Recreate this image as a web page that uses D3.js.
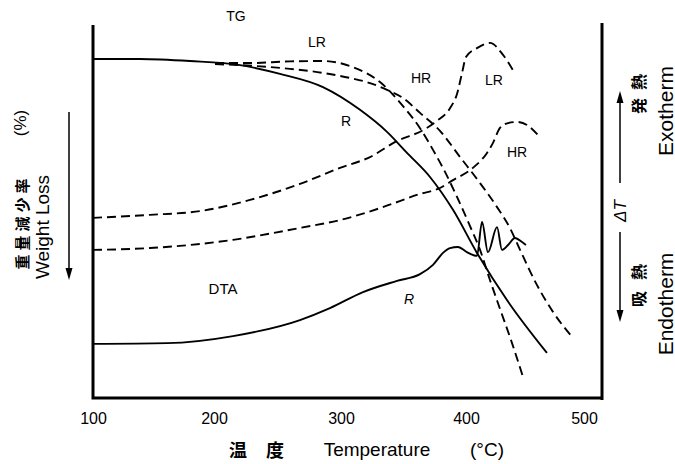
<!DOCTYPE html>
<html><head><meta charset="utf-8">
<script src="https://cdn.jsdelivr.net/npm/d3@7"></script>
<style>body{margin:0;background:#fff}svg{display:block}</style>
</head><body><svg id="c" width="675" height="464"></svg>
<script>
// ---- data ----
const tempTicks = [100, 200, 300, 400, 500];

// TG curves: temperature (°C) and weight loss (%)
const tgR_T    = [100,138.8,180.2,220.5,252.0,285.8,315.2,336.8,352.8,371.2,389.6,409.3,434.7,468.6];
const tgR_loss = [0,0,0.6,1.8,4.4,8.3,15.0,21.5,27.7,34.8,44.5,57.2,71.1,86.7];

const tgLR_T    = [200.8,228.3,259.8,285.8,309.6,331.2,349.6,363.2,373.6,383.2,392.8,403.4,411.9,420.3,428.8,439.0,448.3];
const tgLR_loss = [1.2,1.2,0.7,0.6,2.4,6.8,13.9,20.4,26.8,33.3,40.7,49.3,56.3,65.2,73.7,83.8,93.8];

const tgHR_T    = [200.8,233.9,259.8,285.8,307.2,323.2,336.8,349.6,363.2,379.2,395.2,411.9,426.3,437.3,445.8,460.2,473.7,490.7];
const tgHR_loss = [1.5,2.1,2.9,4.1,5.6,7.1,9.1,11.5,15.9,21.2,28.9,36.6,43.7,49.9,56.3,66.7,74.6,82.3];

// DTA curves: temperature (°C) and ΔT (relative units)
const dtaLR_T  = [100,147.1,188.4,228.3,267.7,299.2,323.2,344.8,365.6,376.8,387.2,392.8,396.8,400,409.3,420.3,431.4,439.8];
const dtaLR_dT = [48.3,49.1,50.1,53.1,57.4,61.7,64.6,68.9,71.8,74.3,77.7,81.5,87.1,91.4,93.8,95.2,92.0,87.9];

const dtaHR_T  = [100,147.1,215.0,267.7,299.2,331.2,363.2,379.2,389.6,405.9,417.8,422.9,428.8,435.6,443.2,451.7,461.0];
const dtaHR_dT = [39.7,40.2,42.4,45.6,47.7,50.9,54.7,56.3,58.4,61.7,65.7,68.4,72.4,73.7,74.0,73.2,70.5];

const dtaR_T  = [100,161.2,215.0,267.7,291.3,317.6,344.8,363.2,373.6,381.6,387.2,393.6,400.8,409.3,413.6,418.6,426.3,430.5,435.6,441.5,447.5,450.8];
const dtaR_dT = [14.5,14.7,16.6,20.9,24.1,28.4,31.4,33.2,35.7,38.9,40.2,40.5,39.1,38.1,47.2,39.1,45.8,39.7,41.0,42.9,41.8,41.0];

// ---- drawing ----
const svg = d3.select("#c");
const LAT = "'Liberation Sans', Arial, Helvetica, sans-serif";
const CJK = "'Noto Sans CJK JP', sans-serif";

const x = d3.scaleLinear().domain(tempTicks).range([93, 214, 341, 466, 584]);
const yTG = d3.scaleLinear().domain([0, 100]).range([59, 398]);
const yDTA = d3.scaleLinear().domain([0, 100]).range([398, 25]);

const zip = (a, b) => a.map((v, i) => [v, b[i]]);

function draw(T, V, ys, dashed) {
  const line = d3.line().x(d => x(d[0])).y(d => ys(d[1])).curve(d3.curveMonotoneX);
  svg.append("path").datum(zip(T, V)).attr("d", line)
    .attr("fill", "none").attr("stroke", "#000").attr("stroke-width", 1.9)
    .attr("stroke-dasharray", dashed ? "9,5" : null);
}
draw(tgR_T, tgR_loss, yTG, false);
draw(tgLR_T, tgLR_loss, yTG, true);
draw(tgHR_T, tgHR_loss, yTG, true);
draw(dtaLR_T, dtaLR_dT, yDTA, true);
draw(dtaHR_T, dtaHR_dT, yDTA, true);
draw(dtaR_T, dtaR_dT, yDTA, false);

// frame
svg.append("path").attr("d", "M93,25V398H602M602,23V400")
  .attr("fill", "none").attr("stroke", "#000").attr("stroke-width", 3);

// axis
const ax = svg.append("g").attr("transform", "translate(0,398)")
  .call(d3.axisBottom(x).tickValues(tempTicks).tickSize(0).tickPadding(15).tickFormat(d3.format("d")));
ax.select(".domain").remove();
ax.selectAll("text").attr("font-family", LAT).attr("font-size", 16).attr("fill", "#000");

function txt(s, px, py, size, fam, opts = {}) {
  const t = svg.append("text").text(s).attr("font-family", fam).attr("font-size", size)
    .attr("fill", "#000").attr("text-anchor", opts.anchor || "middle");
  if (opts.rot) {
    t.attr("transform", `translate(${px},${py}) rotate(-90)`).attr("dominant-baseline", "central");
  } else {
    t.attr("x", px).attr("y", py);
    if (opts.central) t.attr("dominant-baseline", "central");
  }
  if (opts.ls) t.attr("letter-spacing", opts.ls);
  if (opts.style) t.attr("font-style", opts.style);
  if (opts.weight) t.attr("font-weight", opts.weight);
  return t;
}

// curve labels
txt("TG", 236, 16, 14, LAT, {central: true});
txt("LR", 317, 42, 14, LAT, {central: true});
txt("HR", 421, 78, 14, LAT, {central: true});
txt("LR", 494, 80, 14, LAT, {central: true});
txt("R", 346, 121, 14, LAT, {central: true});
txt("HR", 517, 152, 14, LAT, {central: true});
txt("DTA", 223, 288, 15, LAT, {central: true});
txt("R", 409, 299, 14, LAT, {central: true, style: "italic"});

// x title
txt("温", 238, 457, 18, CJK, {weight: 700});
txt("度", 275, 457, 18, CJK, {weight: 700});
txt("Temperature", 377, 456, 19, LAT);
txt("(°C)", 487, 456, 19, LAT);

// left title
txt("(%)", 20, 123, 17, LAT, {rot: true});
txt("重量減少率", 21, 222, 15, CJK, {rot: true, ls: "4px", weight: 700});
txt("Weight Loss", 42, 227, 19, LAT, {rot: true});

// right titles
txt("発", 638, 106, 16, CJK, {rot: true, weight: 700});
txt("熱", 638, 82, 16, CJK, {rot: true, weight: 700});
txt("Exotherm", 665, 111, 21, LAT, {rot: true});
txt("ΔT", 620, 211, 17, LAT, {rot: true, style: "italic"});
txt("吸", 638, 299, 16, CJK, {rot: true, weight: 700});
txt("熱", 638, 272, 16, CJK, {rot: true, weight: 700});
txt("Endotherm", 665, 304, 21, LAT, {rot: true});

// arrows
function arrow(ax0, y0, y1) {
  const dir = y1 > y0 ? 1 : -1;
  svg.append("line").attr("x1", ax0).attr("x2", ax0).attr("y1", y0).attr("y2", y1 - dir * 10)
    .attr("stroke", "#000").attr("stroke-width", 1.5);
  svg.append("path").attr("d", `M${ax0},${y1}L${ax0 - 3.5},${y1 - dir * 12}L${ax0 + 3.5},${y1 - dir * 12}Z`)
    .attr("fill", "#000");
}
arrow(69, 112, 280);
arrow(620, 183, 91);
arrow(620, 232, 322);
</script>
</body></html>
